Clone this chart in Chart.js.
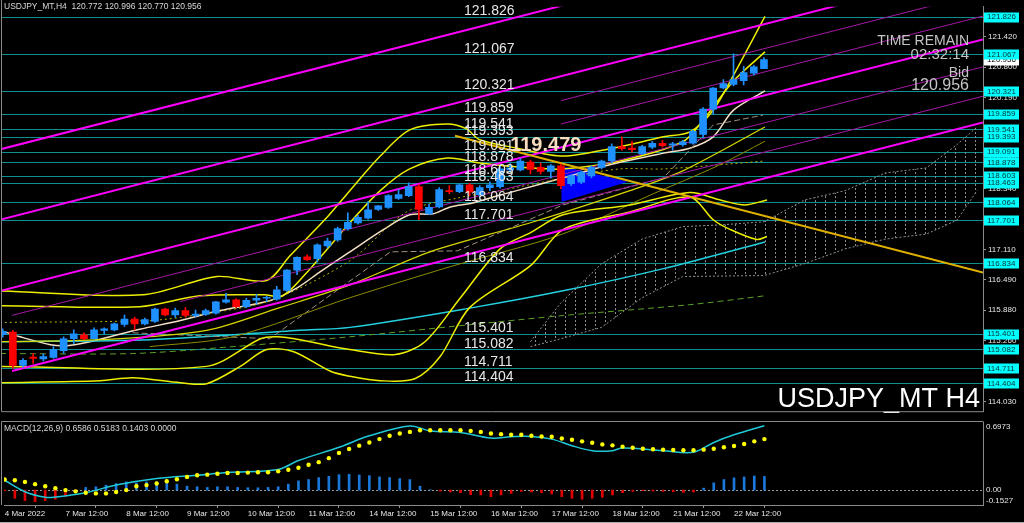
<!DOCTYPE html>
<html>
<head>
<meta charset="utf-8">
<script src="https://cdn.jsdelivr.net/npm/chart.js@4.4.1/dist/chart.umd.min.js"></script>
<style>
  body { margin: 0; background: #000; width: 1024px; height: 523px; overflow: hidden; position: relative; }
  canvas { position: absolute; left: 0; }
  #main { top: 0; }
  #macd { top: 418px; }
</style>
</head>
<body>
<canvas id="main" width="1024" height="418"></canvas>
<canvas id="macd" width="1024" height="105"></canvas>
<script>
// ---- candles (H4 bars, 4 Mar 12:00 .. 23 Mar 00:00) ----
const opens = [115.38,115.435,114.76,114.93,114.89,114.92,115.06,115.30,115.38,115.30,
  115.47,115.48,115.59,115.70,115.60,115.65,115.90,115.78,115.87,115.77,
  115.79,115.82,116.04,116.09,115.95,116.08,116.12,116.10,116.28,116.69,
  116.96,116.92,117.18,117.30,117.53,117.645,117.74,117.92,117.96,118.14,
  118.20,118.38,117.83,117.97,118.30,118.28,118.42,118.22,118.36,118.38,
  118.72,118.72,118.88,118.77,118.69,118.80,118.44,118.47,118.60,118.77,
  118.90,119.19,119.16,119.05,119.18,119.26,119.22,119.23,119.26,119.44,
  119.95,120.38,120.45,120.53,120.68,120.772];
const highs = [115.50,115.47,114.90,115.00,114.99,115.14,115.34,115.48,115.42,115.52,
  115.52,115.62,115.78,115.74,115.72,115.92,115.92,115.92,115.93,115.88,
  115.90,116.06,116.22,116.11,116.12,116.20,116.16,116.36,116.70,116.96,
  117.00,117.22,117.34,117.56,117.85,117.80,118.08,118.00,118.22,118.32,
  118.46,118.42,118.03,118.36,118.40,118.44,118.45,118.40,118.48,118.80,
  118.85,118.95,118.92,118.86,118.83,118.84,118.62,118.70,118.80,118.92,
  119.25,119.39,119.30,119.22,119.30,119.32,119.28,119.32,119.52,119.98,
  120.39,120.55,121.07,120.82,120.84,120.996];
const lows = [115.33,114.70,114.72,114.80,114.85,114.90,115.00,115.20,115.28,115.29,
  115.40,115.46,115.55,115.48,115.58,115.63,115.76,115.73,115.74,115.74,
  115.77,115.80,116.02,115.93,115.93,116.00,116.05,116.08,116.26,116.60,
  116.88,116.85,117.14,117.27,117.50,117.62,117.72,117.90,117.94,118.12,
  118.18,117.71,117.82,117.95,118.24,118.26,118.20,118.18,118.30,118.35,
  118.68,118.70,118.64,118.64,118.55,118.34,118.40,118.44,118.56,118.74,
  118.86,119.12,119.08,119.03,119.15,119.18,119.12,119.20,119.24,119.38,
  119.85,120.36,120.42,120.44,120.64,120.770];
const closes = [115.45,114.76,114.86,114.90,114.94,115.08,115.30,115.40,115.30,115.48,
  115.50,115.60,115.70,115.60,115.69,115.90,115.78,115.87,115.77,115.80,
  115.87,116.05,116.09,115.95,116.08,116.12,116.13,116.29,116.69,116.95,
  116.90,117.20,117.28,117.53,117.66,117.76,117.91,117.99,118.20,118.22,
  118.38,117.92,117.96,118.32,118.28,118.42,118.27,118.36,118.42,118.74,
  118.76,118.90,118.73,118.69,118.80,118.40,118.60,118.67,118.77,118.90,
  119.19,119.15,119.13,119.19,119.26,119.21,119.25,119.29,119.50,119.95,
  120.38,120.47,120.55,120.69,120.81,120.956];

// ---- horizontal levels, axis ticks, time labels ----
const levels = [121.826,121.067,120.321,119.859,119.541,119.393,119.091,118.878,118.603,
  118.463,118.064,117.701,116.834,115.401,115.082,114.711,114.404];
const priceTicks = [121.420,120.800,120.190,119.570,118.950,118.340,117.720,117.110,
  116.490,115.880,115.260,114.650,114.030];
const bidPrice = 120.956;
const dayBars = [0,6,12,18,24,30,36,42,48,54,60,66,72];
const dayLabels = ['4 Mar 2022','7 Mar 12:00','8 Mar 12:00','9 Mar 12:00','10 Mar 12:00',
  '11 Mar 12:00','14 Mar 12:00','15 Mar 12:00','16 Mar 12:00','17 Mar 12:00',
  '18 Mar 12:00','21 Mar 12:00','22 Mar 12:00'];

// ---- drawn objects: [bar, price] ----
const channelThick = [
  [[-0.27,119.135],[96.58,124.23]],
  [[-0.27,117.71],[96.58,122.805]],
  [[-0.27,116.266],[96.58,121.361]],
  [[0.92,114.645],[96.58,119.679]]];
const channelThin = [
  [[55.0,120.124],[96.58,122.31]],
  [[55.0,119.65],[96.58,121.836]],
  [[0.92,115.773],[96.58,120.807]],
  [[17.47,116.052],[96.58,120.213]]];
const goldTrend = [[44.56,119.412],[96.58,116.643]];
const triangle = [[55.05,118.80],[55.05,118.07],[61.6,118.48]];
const markPrice = [50.0, 119.479];

// ---- indicators: [bar, price] ----
const bandUpOuter = [[-0.27,116.27],[13.8,116.19],[21.1,116.56],[26.0,116.48],[28.3,116.98],
  [32.0,117.77],[34.2,118.30],[37.2,119.00],[40.1,119.53],[43.8,119.65],[45.7,119.55],
  [47.0,119.33],[50.7,119.16],[55.2,119.00],[60.1,119.16],[65.1,119.39],[67.7,119.49],
  [70.0,119.93],[72.0,120.64],[75.1,121.83]];
const bandUpInner = [[-0.27,115.97],[13.5,115.95],[19.4,116.17],[25.8,116.19],[27.6,116.17],
  [30.3,116.72],[34.2,117.65],[37.2,118.30],[40.1,118.74],[43.8,118.96],[47.0,118.86],
  [52.0,118.76],[55.2,118.74],[60.8,118.90],[67.0,119.29],[69.0,119.73],[72.0,120.52],[75.1,121.11]];
const bandLowInner = [[-0.27,114.74],[20.1,114.74],[25.4,115.30],[27.0,115.34],[29.3,115.28],
  [34.2,115.08],[38.7,114.98],[41.6,115.24],[45.1,116.13],[49.0,117.12],[52.0,117.45],
  [55.2,117.81],[61.8,118.01],[67.7,118.26],[70.7,118.11],[73.1,118.01],[75.3,118.11]];
const bandLowOuter = [[-0.27,114.41],[9.6,114.45],[12.8,114.51],[17.5,114.41],[20.1,114.39],
  [23.4,114.74],[26.0,115.08],[28.6,115.04],[32.3,114.64],[34.2,114.54],[37.2,114.45],
  [40.6,114.49],[43.1,114.94],[46.0,115.93],[52.0,116.78],[55.2,117.51],[61.8,117.87],
  [67.7,118.17],[70.0,117.71],[71.7,117.51],[74.3,117.31],[75.3,117.37]];
const maFast = [[-0.27,115.47],[1.7,115.34],[4.7,115.18],[6.3,115.16],[8.6,115.24],[11.3,115.38],
  [13.5,115.49],[17.5,115.67],[21.4,115.87],[26.3,116.07],[29.0,116.33],[31.3,116.66],
  [34.2,117.06],[37.5,117.51],[40.1,117.81],[42.4,117.83],[44.1,117.97],[46.3,118.05],
  [49.0,118.21],[51.0,118.32],[55.2,118.56],[60.1,118.84],[65.1,119.06],[67.7,119.16],
  [70.0,119.39],[72.0,119.93],[75.1,120.32]];
const maYellow = [[-0.27,115.24],[9.6,115.28],[20.1,115.47],[27.3,115.93],[34.2,116.39],
  [42.1,117.06],[52.0,117.65],[61.8,118.30],[67.0,118.70],[75.1,119.59]];
const maOlive = [[14.5,115.14],[22.7,115.34],[34.2,116.13],[44.1,116.76],[55.0,117.41],
  [63.8,118.21],[70.4,118.80],[75.1,119.30]];
const maDotted = [[-0.27,115.63],[14.5,115.67],[19.4,115.79],[26.3,116.07],[34.2,116.88],
  [39.8,117.87],[44.8,118.15],[49.0,118.30],[54.9,118.54],[60.8,118.74],[65.1,118.74],[75.1,118.90]];
const maCyan = [[-0.27,115.24],[14.5,115.28],[29.3,115.47],[34.2,115.53],[46.3,115.93],
  [55.2,116.27],[65.1,116.72],[75.1,117.26]];
const maGreen = [[-0.27,115.00],[12.8,115.00],[22.7,115.14],[34.2,115.34],[46.3,115.59],
  [55.2,115.77],[67.7,115.99],[75.1,116.17]];
const kijunGrey = [[12.8,115.42],[26.3,115.30],[38.2,117.06],[44.8,117.08],[50.3,117.57],
  [55.2,118.01],[65.1,118.56],[70.0,119.63],[74.9,119.83]];
const cloudBars = [52,55,59,63,67,71,75,79,83,87,91,94,96];
const cloudTop = [115.24,116.03,116.82,117.32,117.57,117.61,117.67,118.11,118.30,118.66,118.76,119.23,119.59];
const cloudBottom = [115.14,115.30,115.53,116.13,116.56,116.57,116.58,116.82,117.12,117.32,117.42,117.70,118.30];

// ---- MACD(12,26,9) ----
const macdHist = [-0.007,-0.084,-0.108,-0.118,-0.108,-0.094,-0.061,-0.027,0.027,0.034,
  0.051,0.067,0.084,0.074,0.084,0.084,0.074,0.061,0.040,0.034,
  0.027,0.034,0.034,0.027,0.024,0.024,0.027,0.034,0.061,0.094,
  0.108,0.128,0.141,0.158,0.162,0.155,0.148,0.135,0.128,0.118,
  0.108,0.040,0.003,-0.010,-0.020,-0.027,-0.047,-0.050,-0.067,-0.050,
  -0.034,-0.013,-0.020,-0.027,-0.040,-0.067,-0.084,-0.094,-0.084,-0.074,
  -0.050,-0.027,-0.013,-0.007,-0.010,-0.013,-0.017,-0.024,-0.020,0.020,
  0.074,0.108,0.125,0.135,0.145,0.140];
const macdSignal = [0.108,0.101,0.084,0.061,0.040,0.020,0.000,-0.013,-0.027,-0.034,
  -0.034,-0.020,0.000,0.040,0.051,0.067,0.091,0.111,0.135,0.152,
  0.158,0.168,0.175,0.175,0.179,0.182,0.182,0.192,0.209,0.229,
  0.259,0.286,0.327,0.381,0.421,0.455,0.488,0.522,0.556,0.579,
  0.596,0.613,0.613,0.613,0.613,0.613,0.606,0.596,0.579,0.573,
  0.566,0.566,0.556,0.549,0.546,0.529,0.515,0.499,0.485,0.468,
  0.458,0.445,0.434,0.424,0.418,0.414,0.411,0.408,0.408,0.414,
  0.424,0.438,0.451,0.472,0.499,0.522];
const macdMain = [[0,0.101],[2,-0.017],[4,-0.074],[5,-0.071],[8,-0.027],[11,0.051],[15,0.118],
  [19,0.152],[22,0.179],[27,0.212],[29,0.303],[33,0.438],[36,0.556],[40,0.657],[42,0.606],
  [45,0.589],[48,0.533],[50,0.546],[52,0.549],[54,0.522],[56,0.455],[58,0.404],[60,0.404],
  [61,0.431],[65,0.404],[68,0.387],[70,0.488],[72,0.566],[75,0.659]];

Chart.defaults.font.family = '"Liberation Sans", Arial, sans-serif';
Chart.defaults.animation = false;

const BULL = '#1e90ff', BEAR = '#ff0000';
const candleColors = opens.map((o, i) => closes[i] >= o ? BULL : BEAR);
const pts = arr => arr.map(([x, y]) => ({x, y}));

function curve(arr, color, width, extra) {
  return Object.assign({
    type: 'line', data: pts(arr), borderColor: color, borderWidth: width,
    pointRadius: 0, tension: 0.3, fill: false, order: 5
  }, extra || {});
}

function hatchPattern() {
  const c = document.createElement('canvas');
  c.width = 10; c.height = 4;
  const g = c.getContext('2d');
  g.fillStyle = '#8c8c8c';
  g.fillRect(5, 0, 1, 2);
  return g.createPattern(c, 'repeat');
}

const mainPlugin = {
  id: 'mainDeco',
  beforeDatasetsDraw(chart) {
    const {ctx, chartArea: a, scales: {x, y}} = chart;
    ctx.save();
    ctx.beginPath();
    ctx.rect(a.left, a.top, a.right - a.left, a.bottom - a.top);
    ctx.clip();
    ctx.strokeStyle = '#0e9090';
    ctx.lineWidth = 1;
    levels.forEach(v => {
      const py = Math.round(y.getPixelForValue(v)) + 0.5;
      ctx.beginPath(); ctx.moveTo(a.left, py); ctx.lineTo(a.right, py); ctx.stroke();
    });
    ctx.fillStyle = '#0000ff';
    ctx.beginPath();
    triangle.forEach(([b, p], i) => {
      const px = x.getPixelForValue(b), py = y.getPixelForValue(p);
      if (i) ctx.lineTo(px, py); else ctx.moveTo(px, py);
    });
    ctx.closePath();
    ctx.fill();
    ctx.restore();
  },
  afterDatasetsDraw(chart) {
    const {ctx, chartArea: a, scales: {x, y}} = chart;
    ctx.save();
    ctx.beginPath();
    ctx.rect(a.left, 0, a.right - a.left, a.bottom);
    ctx.clip();
    // level labels
    ctx.font = '14px "Liberation Sans"';
    ctx.fillStyle = '#e8e8e8';
    ctx.textAlign = 'left';
    ctx.textBaseline = 'alphabetic';
    levels.forEach(v => ctx.fillText(v.toFixed(3), 464, y.getPixelForValue(v) - 1.5));
    // price mark
    ctx.font = 'bold 20px "Liberation Sans"';
    ctx.fillStyle = '#f8dcc0';
    ctx.textBaseline = 'top';
    ctx.fillText(markPrice[1].toFixed(3), x.getPixelForValue(markPrice[0]), y.getPixelForValue(markPrice[1]) + 3);
    // header
    ctx.font = '8.5px "Liberation Sans"';
    ctx.fillStyle = '#d8d8d8';
    ctx.textBaseline = 'middle';
    ctx.fillText('USDJPY_MT,H4  ' + [opens[75], highs[75], lows[75], closes[75]].map(v => v.toFixed(3)).join(' '), 4, 7);
    // timer block
    ctx.textAlign = 'right';
    ctx.textBaseline = 'alphabetic';
    ctx.fillStyle = '#c4c4c4';
    ctx.font = '14px "Liberation Sans"';
    ctx.fillText('TIME REMAIN', 969, 45);
    ctx.font = '15px "Liberation Sans"';
    ctx.fillText('02:32:14', 969, 59);
    ctx.font = '14px "Liberation Sans"';
    ctx.fillText('Bid', 969, 77);
    ctx.font = '16px "Liberation Sans"';
    ctx.fillText(bidPrice.toFixed(3), 969, 90);
    ctx.restore();
  },
  afterDraw(chart) {
    const {ctx, chartArea: a, scales: {y}} = chart;
    ctx.save();
    // symbol
    ctx.fillStyle = '#ffffff';
    ctx.font = '27px "Liberation Sans"';
    ctx.textAlign = 'right';
    ctx.textBaseline = 'alphabetic';
    ctx.fillText('USDJPY_MT H4', 980, 407);
    ctx.strokeStyle = '#8a8a8a';
    ctx.lineWidth = 1;
    ctx.beginPath();
    ctx.moveTo(1.5, 0); ctx.lineTo(1.5, a.bottom + 0.5); ctx.lineTo(a.right + 0.5, a.bottom + 0.5);
    ctx.stroke();
    ctx.font = '8px "Liberation Sans"';
    ctx.textBaseline = 'middle';
    ctx.textAlign = 'left';
    const box = (v, bg, fg) => {
      const py = y.getPixelForValue(v);
      ctx.fillStyle = bg;
      ctx.fillRect(984, Math.round(py) - 4.5, 35, 10);
      ctx.fillStyle = fg;
      ctx.fillText(v.toFixed(3), 987, py + 0.5);
    };
    box(bidPrice, '#ffffff', '#000000');
    levels.forEach(v => box(v, '#00ffff', '#063030'));
    ctx.restore();
  }
};

new Chart(document.getElementById('main'), {
  type: 'bar',
  data: {
    datasets: [
      { type: 'bar', data: opens.map((o, i) => ({x: i, y: [o, closes[i]]})),
        backgroundColor: candleColors, barThickness: 7, minBarLength: 1, grouped: false, borderWidth: 0, order: 0 },
      { type: 'bar', data: opens.map((o, i) => ({x: i, y: [lows[i], highs[i]]})),
        backgroundColor: candleColors, barThickness: 1, grouped: false, borderWidth: 0, order: 1 },
      curve(goldTrend, '#e0b000', 2, {tension: 0, order: 2}),
      ...channelThick.map(l => curve(l, '#ff00ff', 2, {tension: 0, order: 3})),
      ...channelThin.map(l => curve(l, '#a418a4', 1, {tension: 0, order: 3})),
      curve(bandUpOuter, '#eeee00', 1.5, {order: 4}),
      curve(bandUpInner, '#eeee00', 1.5, {order: 4}),
      curve(bandLowInner, '#eeee00', 1.5, {order: 4}),
      curve(bandLowOuter, '#eeee00', 1.5, {order: 4}),
      curve(maYellow, '#d8d800', 1.2),
      curve(maOlive, '#8c8c00', 1),
      curve(maDotted, '#b8b000', 1, {borderDash: [2, 3]}),
      curve(kijunGrey, '#a09080', 1, {borderDash: [6, 3], tension: 0}),
      curve(maGreen, '#5aa028', 1, {borderDash: [6, 4]}),
      curve(maCyan, '#22d0e0', 1.5),
      curve(maFast, '#f5dfc5', 1.5),
      { type: 'line', data: cloudBars.map((b, i) => ({x: b, y: cloudTop[i]})),
        borderColor: '#909090', borderWidth: 1, borderDash: [2, 2], pointRadius: 0,
        fill: '+1', backgroundColor: hatchPattern(), order: 8 },
      { type: 'line', data: cloudBars.map((b, i) => ({x: b, y: cloudBottom[i]})),
        borderColor: '#909090', borderWidth: 1, borderDash: [2, 2], pointRadius: 0, fill: false, order: 8 }
    ]
  },
  options: {
    responsive: false,
    devicePixelRatio: 1,
    events: [],
    layout: { padding: { left: 2, top: 2, right: 0, bottom: 2 } },
    plugins: { legend: { display: false }, tooltip: { enabled: false } },
    scales: {
      x: { type: 'linear', min: -0.07, max: 96.58, offset: false, display: false },
      y: {
        position: 'right', min: 113.832, max: 122.024,
        afterBuildTicks: s => { s.ticks = priceTicks.map(v => ({value: v})); },
        afterFit: s => { s.width = 41; },
        ticks: { color: '#e6e6e6', font: { size: 8 }, padding: 2, callback: v => v.toFixed(3) },
        grid: { drawOnChartArea: false, tickLength: 3, color: '#9a9a9a' },
        border: { color: '#8a8a8a' }
      }
    }
  },
  plugins: [mainPlugin]
});

const macdPlugin = {
  id: 'macdDeco',
  beforeDatasetsDraw(chart) {
    const {ctx, chartArea: a, scales: {y}} = chart;
    const py = Math.round(y.getPixelForValue(0)) + 0.5;
    ctx.save();
    ctx.strokeStyle = '#9a9a9a';
    ctx.setLineDash([2, 2]);
    ctx.beginPath(); ctx.moveTo(a.left, py); ctx.lineTo(a.right, py); ctx.stroke();
    ctx.restore();
  },
  afterDraw(chart) {
    const {ctx, chartArea: a, scales: {y}} = chart;
    ctx.save();
    ctx.strokeStyle = '#8a8a8a';
    ctx.lineWidth = 1;
    ctx.beginPath();
    ctx.moveTo(1.5, a.bottom); ctx.lineTo(1.5, a.top - 0.5); ctx.lineTo(a.right + 0.5, a.top - 0.5);
    ctx.stroke();
    ctx.strokeStyle = '#b0b0b0';
    ctx.beginPath(); ctx.moveTo(0, 104.5); ctx.lineTo(1024, 104.5); ctx.stroke();
    ctx.font = '8.5px "Liberation Sans"';
    ctx.fillStyle = '#d8d8d8';
    ctx.textBaseline = 'middle';
    ctx.textAlign = 'left';
    ctx.fillText('MACD(12,26,9) ' + [0.6586, 0.5183, 0.1403, 0].map(v => v.toFixed(4)).join(' '), 4, a.top + 7);
    ctx.font = '8px "Liberation Sans"';
    ctx.fillStyle = '#e6e6e6';
    ctx.fillText('0.6973', 986, y.getPixelForValue(0.6973) + 5);
    ctx.fillText('0.00', 986, y.getPixelForValue(0));
    ctx.fillText('-0.1527', 986, y.getPixelForValue(-0.1527) - 4);
    ctx.restore();
  }
};

new Chart(document.getElementById('macd'), {
  type: 'bar',
  data: {
    datasets: [
      { type: 'line', data: pts(macdMain), borderColor: '#1ec8d8', borderWidth: 1.5,
        pointRadius: 0, tension: 0.35, order: 1 },
      { type: 'line', data: macdSignal.map((v, i) => ({x: i, y: v})), showLine: false,
        pointRadius: 2.2, pointBackgroundColor: '#ffff00', pointBorderWidth: 0, order: 0 },
      { type: 'bar', data: macdHist.map((v, i) => ({x: i, y: v})),
        backgroundColor: macdHist.map(v => v >= 0 ? '#1a78d8' : '#e00000'),
        barThickness: 2, grouped: false, borderWidth: 0, order: 2 }
    ]
  },
  options: {
    responsive: false,
    devicePixelRatio: 1,
    events: [],
    layout: { padding: { left: 2, top: 3, right: 0, bottom: 0 } },
    plugins: { legend: { display: false }, tooltip: { enabled: false } },
    scales: {
      x: {
        type: 'linear', min: -0.07, max: 96.58, offset: false,
        afterBuildTicks: s => { s.ticks = dayBars.map(v => ({value: v})); },
        afterFit: s => { s.height = 18; },
        ticks: { color: '#e6e6e6', font: { size: 8 }, align: 'start', maxRotation: 0,
          autoSkip: false, padding: 1, callback: (v, i) => dayLabels[i] },
        grid: { drawOnChartArea: false, tickLength: 3, color: '#9a9a9a' },
        border: { color: '#8a8a8a' }
      },
      y: {
        position: 'right', min: -0.1527, max: 0.6973,
        afterFit: s => { s.width = 41; },
        ticks: { display: false },
        grid: { display: false },
        border: { color: '#8a8a8a' }
      }
    }
  },
  plugins: [macdPlugin]
});
</script>
</body>
</html>
